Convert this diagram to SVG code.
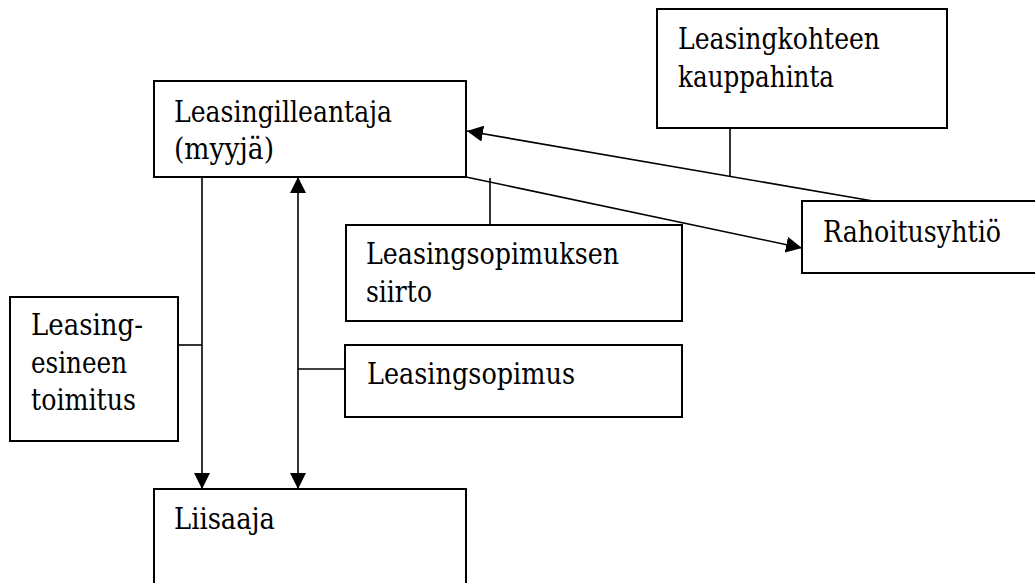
<svg xmlns="http://www.w3.org/2000/svg" width="1035" height="583" viewBox="0 0 1035 583">
<style>
.box{fill:#fff;stroke:#000;stroke-width:2}
.t{font-family:'DejaVu Serif',serif;font-size:29px;fill:#000}
.c{stroke:#000;stroke-width:1.6;fill:none}
</style>
<defs>
<marker id="ah" markerUnits="userSpaceOnUse" markerWidth="17" markerHeight="16" refX="16" refY="8" orient="auto-start-reverse" viewBox="0 0 17 16">
<path d="M0,0 L16,8 L0,16 Z" fill="#000"/>
</marker>
</defs>
<rect width="1035" height="583" fill="#fff"/>
<g id="connectors">
<line class="c" x1="873" y1="201" x2="467" y2="131" marker-end="url(#ah)"/>
<line class="c" x1="730" y1="128" x2="730" y2="176"/>
<line class="c" x1="466" y1="177" x2="802" y2="248" marker-end="url(#ah)"/>
<line class="c" x1="490" y1="178" x2="490" y2="225"/>
<line class="c" x1="202" y1="177" x2="202" y2="489" marker-end="url(#ah)"/>
<line class="c" x1="178" y1="345" x2="202" y2="345"/>
<line class="c" x1="298" y1="177" x2="298" y2="489" marker-start="url(#ah)" marker-end="url(#ah)"/>
<line class="c" x1="298" y1="369" x2="345" y2="369"/>
</g>
<g id="leasingilleantaja">
<rect class="box" x="154" y="81" width="312" height="96"/>
<text class="t" x="174" y="122" textLength="218" lengthAdjust="spacingAndGlyphs">Leasingilleantaja</text>
<text class="t" x="174" y="159" textLength="100" lengthAdjust="spacingAndGlyphs">(myyjä)</text>
</g>
<g id="kauppahinta">
<rect class="box" x="657" y="9" width="290" height="119"/>
<text class="t" x="678" y="49" textLength="202" lengthAdjust="spacingAndGlyphs">Leasingkohteen</text>
<text class="t" x="678" y="87" textLength="156" lengthAdjust="spacingAndGlyphs">kauppahinta</text>
</g>
<g id="rahoitusyhtio">
<rect class="box" x="802" y="201" width="240" height="72"/>
<text class="t" x="823" y="242" textLength="178" lengthAdjust="spacingAndGlyphs">Rahoitusyhtiö</text>
</g>
<g id="siirto">
<rect class="box" x="346" y="225" width="336" height="96"/>
<text class="t" x="366" y="264" textLength="253" lengthAdjust="spacingAndGlyphs">Leasingsopimuksen</text>
<text class="t" x="366" y="302" textLength="66" lengthAdjust="spacingAndGlyphs">siirto</text>
</g>
<g id="toimitus">
<rect class="box" x="10" y="297" width="168" height="144"/>
<text class="t" x="31" y="335" textLength="112" lengthAdjust="spacingAndGlyphs">Leasing-</text>
<text class="t" x="31" y="373" textLength="96" lengthAdjust="spacingAndGlyphs">esineen</text>
<text class="t" x="31" y="410" textLength="105" lengthAdjust="spacingAndGlyphs">toimitus</text>
</g>
<g id="leasingsopimus">
<rect class="box" x="345" y="345" width="337" height="72"/>
<text class="t" x="367" y="384" textLength="208" lengthAdjust="spacingAndGlyphs">Leasingsopimus</text>
</g>
<g id="liisaaja">
<rect class="box" x="154" y="489" width="312" height="110"/>
<text class="t" x="174" y="529" textLength="101" lengthAdjust="spacingAndGlyphs">Liisaaja</text>
</g>
</svg>
